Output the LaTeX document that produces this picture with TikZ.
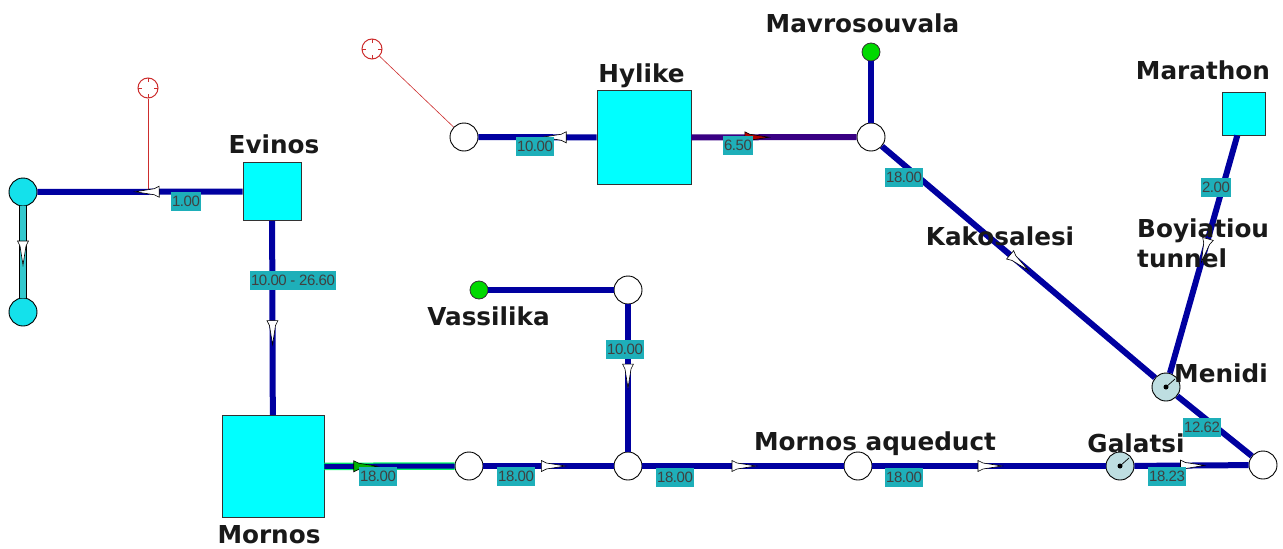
\documentclass[tikz,border=0pt]{standalone}
\usepackage{fontspec}
\setsansfont{Liberation Sans}
\newfontfamily\namefont{DejaVu Sans}[Scale=1]
\usetikzlibrary{decorations.markings}
\definecolor{pipeblue}{RGB}{0,0,160}
\definecolor{tankcyan}{RGB}{0,255,255}
\definecolor{srccyan}{RGB}{20,225,235}
\definecolor{valuebg}{RGB}{30,175,185}
\definecolor{gaugefill}{RGB}{190,222,225}
\definecolor{linkteal}{RGB}{50,200,205}
\definecolor{targetred}{RGB}{205,45,45}
\tikzset{
    tank/.style={draw=black!80, fill=tankcyan, line width=0.9pt, inner sep=0pt, minimum size=#1},
    junction/.style={circle, draw=black, fill=white, line width=0.9pt, inner sep=0pt, minimum size=28pt},
    source/.style={junction, fill=srccyan},
    borehole/.style={circle, draw=black!80, fill=green!85!black, line width=0.8pt, inner sep=0pt, minimum size=18pt},
    gauge/.style={junction, fill=gaugefill},
    target/.style={circle, draw=targetred, fill=white, line width=1pt, inner sep=0pt, minimum size=20pt},
    pipe/.style={draw=pipeblue, line width=6pt},
    flow/.style 2 args={postaction={decorate}, decoration={markings, mark=at position #1 with {
        \draw[black, fill=#2, line width=0.6pt] (-11,-5.5) -- (-11,5.5) -- (-6,3) -- (13,0) -- (-6,-3) -- cycle;}}},
    value/.style={fill=valuebg, text=black!75, inner sep=1.2pt, minimum height=19pt, font=\sffamily\fontsize{15}{15}\selectfont\addfontfeatures{LetterSpace=-3}},
    placename/.style={text=black!90, inner sep=0pt, align=left, font=\namefont\bfseries\fontsize{24.7}{24.7}\selectfont},
}
\begin{document}
\begin{tikzpicture}[x=1pt,y=-1pt]
    \useasboundingbox (0,0) rectangle (1283,549);
    \node [tank=58pt] (evinos) at (272,191.5) {};
    \node [tank=102pt] (mornos) at (273,466.5) {};
    \node [tank=94pt] (hylike) at (644,137.5) {};
    \node [tank=43pt] (marathon) at (1243.5,113.5) {};
    \node [source] (src1) at (23,192) {};
    \node [source] (src2) at (23,312) {};
    \node [target] (tgt1) at (148,88) {};
    \node [target] (tgt2) at (372,49) {};
    \node [junction] (j1) at (464,137) {};
    \node [junction] (j2) at (871,137) {};
    \node [junction] (j3) at (628,290) {};
    \node [junction] (j4) at (628,466) {};
    \node [junction] (j5) at (469,466) {};
    \node [junction] (j6) at (858,466) {};
    \node [junction] (j7) at (1263,465) {};
    \node [gauge] (galatsi) at (1120,466) {};
    \node [gauge] (menidi) at (1166,387) {};
    \node [borehole] (mavro) at (871,52) {};
    \node [borehole] (vass) at (479,290) {};
    \coordinate (tap1) at (148,192);

    \foreach \t in {tgt1, tgt2} {
        \foreach \a in {0,90,180,270} {
            \draw [targetred, line width=1pt] (\t) ++(\a:10) -- ++(\a+180:4);
        }
    }
    \draw [targetred, line width=0.8pt] (tgt1) -- (tap1);
    \draw [targetred, line width=0.6pt] (tgt2) -- (j1);
    \draw [black, line width=8pt] (src1) -- (src2);
    \draw [linkteal, line width=6pt, flow={.5}{white}] (src1) -- (src2);
    \draw [pipe, flow={.46}{white}] (evinos) -- (src1);
    \draw [pipe, flow={.57}{white}] (evinos) -- (mornos);
    \draw [pipe, flow={.35}{white}] (hylike) -- (j1);
    \draw [pipeblue!70!purple, line width=6pt, flow={.39}{red!70!black}] (hylike) -- (j2);
    \draw [pipe] (j2) -- (mavro);
    \draw [pipe, flow={.5}{white}] (j2) -- (menidi);
    \draw [pipe, flow={.48}{white}] (marathon) -- (menidi);
    \draw [pipe] (menidi) -- (j7);
    \draw [pipe] (vass) -- (j3);
    \draw [pipe, flow={.48}{white}] (j3) -- (j4);
    \draw [green!60!cyan, line width=7.5pt] (mornos) -- (j5);
    \draw [pipe, line width=5pt, flow={.31}{green!70!black}] (mornos) -- (j5);
    \draw [pipe, flow={.53}{white}] (j5) -- (j4);
    \draw [pipe, flow={.5}{white}] (j4) -- (j6);
    \draw [pipe, flow={.5}{white}] (j6) -- (galatsi);
    \draw [pipe, flow={.5}{white}] (galatsi) -- (j7);

    \foreach \g in {galatsi, menidi} {
        \fill [black] (\g) circle (2.5pt);
        \draw [black, line width=0.7pt] (\g.center) -- ++(9,-8);
    }

    \node [value] (v1) at (186,201) {1.00};
    \node [value] (v2) at (293,280) {10.00 - 26.60};
    \node [value] (v3) at (535,146) {10.00};
    \node [value] (v4) at (738,145) {6.50};
    \node [value] (v5) at (904,177) {18.00};
    \node [value] (v6) at (1216,187) {2.00};
    \node [value] (v7) at (625,349) {10.00};
    \node [value] (v8) at (378,476) {18.00};
    \node [value] (v9) at (516,476) {18.00};
    \node [value] (v10) at (675,477) {18.00};
    \node [value] (v11) at (904,477) {18.00};
    \node [value] (v12) at (1167,476) {18.23};
    \node [value] (v13) at (1202,427) {12.62};

    \node [placename] (nmavro) at (862.5,23) {Mavrosouvala};
    \node [placename] (nhylike) at (641.5,76) {Hylike};
    \node [placename] (nmarathon) at (1203,70) {Marathon};
    \node [placename] (nevinos) at (274,144) {Evinos};
    \node [placename] (nkakos) at (1000,236) {Kakosalesi};
    \node [placename, anchor=west] (nboy) at (1137,243) {Boyiatiou\\[5pt]tunnel};
    \node [placename] (nvass) at (488.5,316) {Vassilika};
    \node [placename] (nmenidi) at (1221,373) {Menidi};
    \node [placename] (naque) at (875,444) {Mornos aqueduct};
    \node [placename] (ngalatsi) at (1136,443) {Galatsi};
    \node [placename] (nmornos) at (269,535) {Mornos};
\end{tikzpicture}
\end{document}
